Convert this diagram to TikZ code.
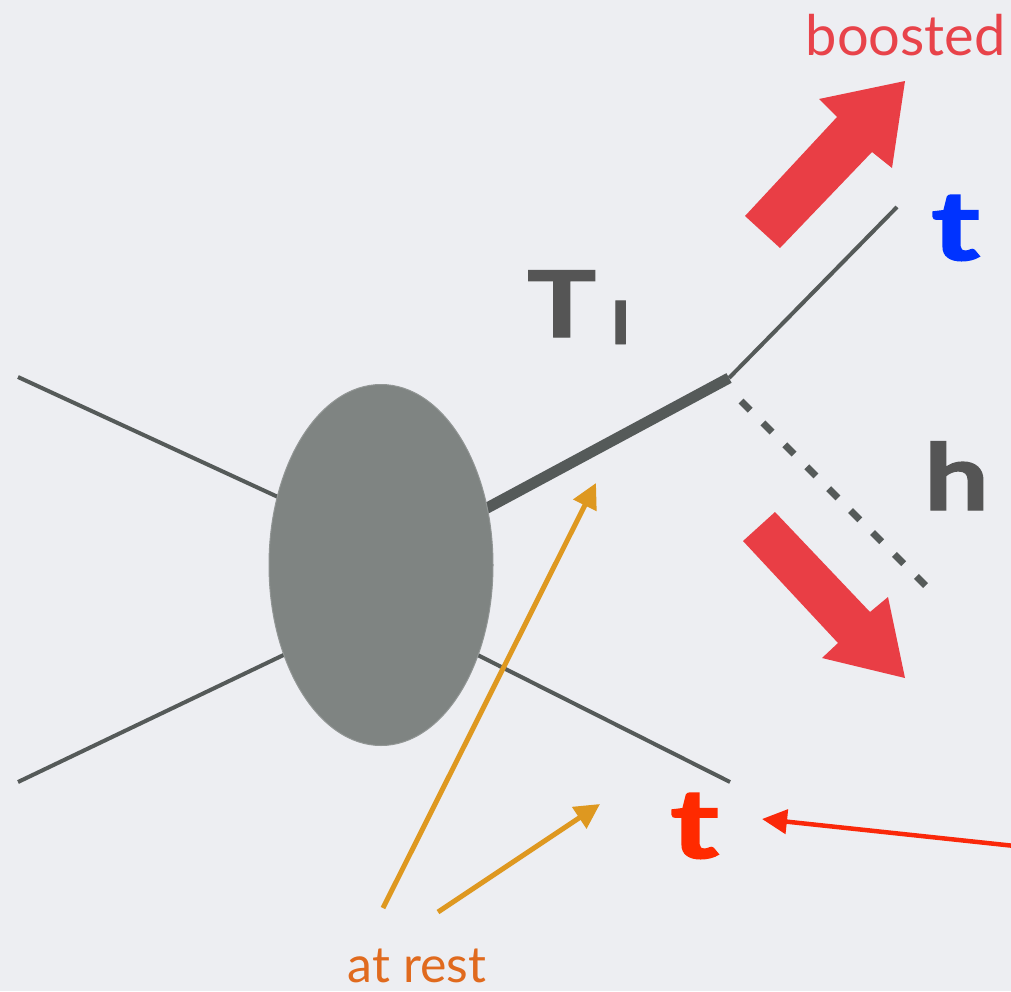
\documentclass[tikz,border=0pt]{standalone}
\usepackage{fontspec}
\setmainfont{Lato}
\newfontfamily\heavy[FakeBold=1.5]{Lato}
\usetikzlibrary{arrows.meta,shapes.geometric}
\definecolor{bgc}{RGB}{237,238,242}
\definecolor{linec}{RGB}{85,90,89}
\definecolor{blobc}{RGB}{127,132,130}
\definecolor{fatred}{RGB}{233,62,69}
\definecolor{txtred}{RGB}{232,67,74}
\definecolor{tblue}{RGB}{0,51,255}
\definecolor{tred}{RGB}{255,42,0}
\definecolor{arrred}{RGB}{250,40,10}
\definecolor{orangearr}{RGB}{222,152,32}
\definecolor{orangetxt}{RGB}{224,106,30}
\definecolor{labgray}{RGB}{85,85,85}
\tikzset{
  leg/.style={draw=linec, line width=4pt},
  fatarrow/.style={fill=fatred, draw=none},
  pointer/.style={draw=orangearr, line width=5pt, -{Triangle[length=25pt,width=25pt]}},
  redpointer/.style={draw=arrred, line width=4.5pt, -{Triangle[length=25pt,width=24pt]}},
  biglabel/.style={inner sep=0pt, font=\fontsize{92}{92}\selectfont\heavy\bfseries},
  tlabel/.style={inner sep=0pt, font=\fontsize{97}{97}\selectfont\heavy\bfseries},
}
\begin{document}
\begin{tikzpicture}[x=1pt,y=-1pt]
\fill[bgc] (0,0) rectangle (1011,991);
\useasboundingbox (0,0) rectangle (1011,991);
% coordinates
\coordinate (c) at (381,565);
\coordinate (ul) at (18,377);
\coordinate (ulin) at (330,521);
\coordinate (ll) at (18,782);
\coordinate (llin) at (340,628);
\coordinate (lr) at (730,782);
\coordinate (lrin) at (420,626);
\coordinate (v) at (729,378);
\coordinate (tt) at (897,207);
\coordinate (hs) at (741,401);
\coordinate (he) at (930,590);
% legs behind blob
\draw[leg] (ul) -- (ulin);
\draw[leg] (ll) -- (llin);
\draw[leg] (lrin) -- (lr);
\draw[draw=linec, line width=11pt] (c) -- (v);
\draw[leg] (v) -- (tt);
\draw[draw=linec, line width=7pt, dash pattern=on 13pt off 18pt] (hs) -- (he);
% blob
\node[ellipse, fill=blobc, draw=blobc!85!white, line width=1pt, minimum width=224pt, minimum height=361pt, inner sep=0pt] (blob) at (c) {};
% fat arrows
\fill[fatarrow] (745,216) -- (837,117) -- (819,99) -- (905,81) -- (892,168) -- (872,152) -- (780,248) -- cycle;
\fill[fatarrow] (775,512) -- (870,612) -- (888,597) -- (905,678) -- (822,658) -- (838,643) -- (743,541) -- cycle;
% labels
\node[biglabel, text=labgray, anchor=base west] (T) at (527,337) {\scalebox{1.25}[1]{T}};
\node[inner sep=0pt, text=labgray, anchor=base west, font=\fontsize{58}{58}\selectfont\heavy\bfseries] (Tsub) at (611,344) {\scalebox{1.3}[1]{l}};
\node[biglabel, text=labgray, anchor=base west] (h) at (924,510) {\scalebox{1.25}[1]{h}};
\node[tlabel, text=tblue, anchor=base west] (tb) at (931,260) {\scalebox{1.35}[1]{t}};
\node[tlabel, text=tred, anchor=base west] (tr) at (670,858) {\scalebox{1.35}[1]{t}};
\node[inner sep=0pt, text=txtred, anchor=base east, font=\fontsize{56}{56}\selectfont] (boosted) at (1006,55) {boosted};
\node[inner sep=0pt, text=orangetxt, anchor=base, font=\fontsize{50}{50}\selectfont] (rest) at (417,982) {at rest};
% pointers
\coordinate (o1s) at (383,908);
\coordinate (o1e) at (596,483);
\coordinate (o2s) at (438,912);
\coordinate (o2e) at (600,804);
\draw[pointer] (o1s) -- (o1e);
\draw[pointer] (o2s) -- (o2e);
\coordinate (rs) at (1015,846);
\coordinate (re) at (762,819);
\draw[redpointer] (rs) -- (re);
\end{tikzpicture}
\end{document}
